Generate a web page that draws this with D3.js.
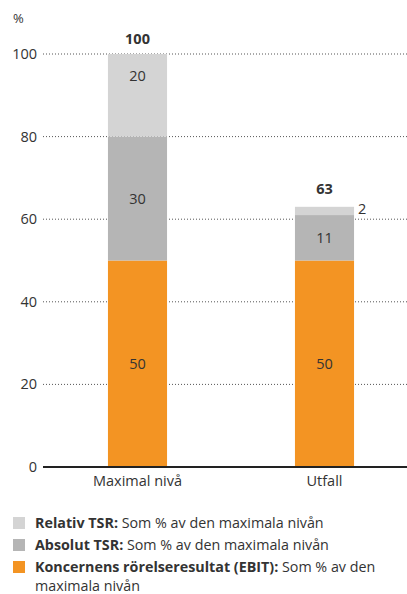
<!DOCTYPE html>
<html><head><meta charset="utf-8">
<script src="https://cdn.jsdelivr.net/npm/d3@7"></script>
<style>body{margin:0;background:#fff;font-family:"Open Sans",sans-serif;}</style>
</head><body>
<script>
const categories = ["Maximal nivå", "Utfall"];
const seriesNames = ["Koncernens rörelseresultat (EBIT)", "Absolut TSR", "Relativ TSR"];
const ebit = [50, 50];
const absolutTSR = [30, 11];
const relativTSR = [20, 2];
const totals = [100, 63];
const yTicks = [0, 20, 40, 60, 80, 100];
const colors = ["#f39423", "#b5b5b5", "#d4d4d4"];
const legendItems = [
  {bold: "Relativ TSR:", text: " Som % av den maximala nivån", c: 2},
  {bold: "Absolut TSR:", text: " Som % av den maximala nivån", c: 1},
  {bold: "Koncernens rörelseresultat (EBIT):", text: " Som % av den", text2: "maximala nivån", c: 0}
];

const W = 407, H = 594;
const svg = d3.select("body").append("svg").attr("width", W).attr("height", H);
const y = d3.scaleLinear().domain([0, 100]).range([467, 54]);
const x = d3.scaleBand().domain(categories).range([44, 418]).paddingInner(0.684).paddingOuter(0.342);
const txt = "#333";

// gridlines
svg.append("g").selectAll("line").data(yTicks.filter(d => d > 0)).join("line")
  .attr("x1", 43).attr("x2", W).attr("y1", d => y(d)).attr("y2", d => y(d))
  .attr("stroke", "#555").attr("stroke-width", 1).attr("stroke-dasharray", "1,2");
// y tick labels
svg.append("g").selectAll("text").data(yTicks).join("text")
  .attr("x", 37).attr("y", d => y(d)).attr("dy", "0.35em").attr("text-anchor", "end")
  .attr("font-size", 14.5).attr("fill", txt).text(d => d);
svg.append("text").attr("x", 13).attr("y", 23).attr("font-size", 13).attr("fill", txt).text("%");

const series = [ebit, absolutTSR, relativTSR];
const stacked = categories.map((c, i) => {
  let acc = 0;
  return series.map((s, k) => { const y0 = acc; acc += s[i]; return {cat: c, i, k, v: s[i], y0, y1: acc}; });
}).flat();

svg.append("g").selectAll("rect").data(stacked).join("rect")
  .attr("x", d => x(d.cat)).attr("width", x.bandwidth())
  .attr("y", d => y(d.y1)).attr("height", d => y(d.y0) - y(d.y1))
  .attr("fill", d => colors[d.k]);

// segment labels
svg.append("g").selectAll("text").data(stacked).join("text")
  .attr("x", d => d.v < 5 ? x(d.cat) + x.bandwidth() + 4 : x(d.cat) + x.bandwidth() / 2)
  .attr("y", d => d.v < 5 ? y(d.y1) + 2 : (d.k === 2 ? y(d.y1) + 22 : y((d.y0 + d.y1) / 2)))
  .attr("dy", "0.35em")
  .attr("text-anchor", d => d.v < 5 ? "start" : "middle")
  .attr("font-size", 14.5).attr("fill", txt).text(d => d.v);

// totals
svg.append("g").selectAll("text").data(categories).join("text")
  .attr("x", d => x(d) + x.bandwidth() / 2)
  .attr("y", (d, i) => y(totals[i]) - (relativTSR[i] < 5 ? 18 : 15))
  .attr("dy", "0.35em").attr("text-anchor", "middle").attr("font-weight", "bold")
  .attr("font-size", 14.5).attr("fill", txt).text((d, i) => totals[i]);

// axis baseline
svg.append("line").attr("x1", 43).attr("x2", W).attr("y1", y(0)).attr("y2", y(0))
  .attr("stroke", "#222").attr("stroke-width", 2);
// category labels
svg.append("g").selectAll("text").data(categories).join("text")
  .attr("x", d => x(d) + x.bandwidth() / 2).attr("y", 486)
  .attr("text-anchor", "middle").attr("font-size", 14.5).attr("fill", txt).text(d => d);

// legend
const lg = svg.append("g");
legendItems.forEach((it, i) => {
  const yy = 523 + i * 22;
  lg.append("rect").attr("x", 13).attr("y", yy - 6).attr("width", 12).attr("height", 12).attr("fill", colors[it.c]);
  const t = lg.append("text").attr("x", 35).attr("y", yy).attr("dy", "0.35em").attr("font-size", 14.3).attr("fill", txt);
  t.append("tspan").attr("font-weight", "bold").text(it.bold);
  t.append("tspan").text(it.text);
  if (it.text2) lg.append("text").attr("x", 35).attr("y", yy + 19).attr("dy", "0.35em").attr("font-size", 14.3).attr("fill", txt).text(it.text2);
});
</script>
</body></html>
